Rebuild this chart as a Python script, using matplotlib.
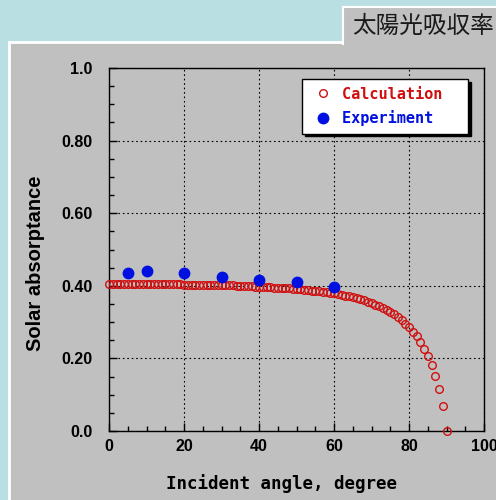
import matplotlib
matplotlib.use("Agg")
import matplotlib.pyplot as plt
from matplotlib.patches import Rectangle
from matplotlib.lines import Line2D

# calculated solar absorptance, one point per degree 0..90
calc_angle = list(range(0, 91))
calc_value = [
    0.405, 0.405, 0.405, 0.405, 0.405, 0.405, 0.405, 0.405, 0.405, 0.405,
    0.405, 0.404, 0.404, 0.404, 0.404, 0.404, 0.404, 0.404, 0.404, 0.404,
    0.403, 0.403, 0.403, 0.403, 0.403, 0.403, 0.402, 0.402, 0.402, 0.402,
    0.402, 0.401, 0.401, 0.401, 0.400, 0.400, 0.400, 0.399, 0.399, 0.398,
    0.398, 0.397, 0.397, 0.396, 0.395, 0.395, 0.394, 0.393, 0.393, 0.392,
    0.391, 0.390, 0.389, 0.388, 0.387, 0.386, 0.385, 0.384, 0.382, 0.381,
    0.379, 0.377, 0.375, 0.373, 0.371, 0.368, 0.366, 0.363, 0.360, 0.356,
    0.352, 0.348, 0.344, 0.339, 0.333, 0.327, 0.321, 0.314, 0.305, 0.296,
    0.287, 0.274, 0.262, 0.245, 0.227, 0.207, 0.181, 0.151, 0.116, 0.068,
    0.0,
]

exp_angle = [5, 10, 20, 30, 40, 50, 60]
exp_value = [0.436, 0.440, 0.436, 0.424, 0.415, 0.410, 0.398]

xticks = [0, 20, 40, 60, 80, 100]
yticks = [0.0, 0.2, 0.4, 0.6, 0.8, 1.0]
ytick_labels = ["0.0", "0.20", "0.40", "0.60", "0.80", "1.0"]

title_text = "太陽光吸収率"

W, H = 496, 500
fig = plt.figure(figsize=(W / 100, H / 100), dpi=100)
fig.patch.set_facecolor("#b9dfe3")

# gray panel with white edge on left/top
panel_top = 1 - 42 / H
fig.patches.append(Rectangle((9 / W, 0), 1, panel_top, transform=fig.transFigure,
                             facecolor="#c0c0c0", edgecolor="none", zorder=-3))
fig.lines.append(Line2D([9 / W, 9 / W], [0, panel_top], transform=fig.transFigure,
                        color="white", lw=2, zorder=-2))
fig.lines.append(Line2D([9 / W, 1], [panel_top, panel_top], transform=fig.transFigure,
                        color="white", lw=2, zorder=-2))

# title box
tb_left, tb_top, tb_bot = 343 / W, 1 - 7 / H, 1 - 44 / H
fig.patches.append(Rectangle((tb_left, tb_bot), 1, tb_top - tb_bot, transform=fig.transFigure,
                             facecolor="#c0c0c0", edgecolor="none", zorder=-1))
fig.lines.append(Line2D([tb_left, tb_left], [tb_bot, tb_top], transform=fig.transFigure,
                        color="white", lw=1.5, zorder=-0.5))
fig.lines.append(Line2D([tb_left, 1], [tb_top, tb_top], transform=fig.transFigure,
                        color="white", lw=1.5, zorder=-0.5))
fig.text(352 / W, (tb_top + tb_bot) / 2 - 0.002, title_text, fontsize=17,
         family=["Noto Sans CJK JP", "DejaVu Sans"], color="#1a1a1a",
         va="center", ha="left")

ax = fig.add_axes([109 / W, 1 - 431 / H, (484 - 109) / W, (431 - 68) / H])
ax.set_facecolor("#c0c0c0")

ax.plot(calc_angle, calc_value, linestyle="none", marker="o", markersize=5.5,
        markerfacecolor="none", markeredgecolor="#d01010", markeredgewidth=1.0,
        label="Calculation  ", zorder=3, clip_on=False)
ax.plot(exp_angle, exp_value, linestyle="none", marker="o", markersize=7.5,
        markerfacecolor="#0010e0", markeredgecolor="#0010e0",
        label="Experiment  ", zorder=4)

ax.set_xlim(0, 100)
ax.set_ylim(0, 1.0)
ax.set_xticks(xticks)
ax.set_yticks(yticks)
ax.set_yticklabels(ytick_labels)
ax.set_xticks(range(0, 101, 5), minor=True)
ax.set_yticks([i * 0.05 for i in range(21)], minor=True)
ax.tick_params(which="both", direction="in", top=False, right=False, width=1)
ax.tick_params(which="major", length=6)
ax.tick_params(which="minor", length=3.5)
ax.tick_params(axis="y", pad=12)
ax.tick_params(axis="x", pad=6)
for lab in ax.get_xticklabels() + ax.get_yticklabels():
    lab.set_fontfamily("Liberation Sans")
    lab.set_fontweight("bold")
    lab.set_fontsize(11.5)
ax.grid(True, which="major", color="black", linestyle=(0, (1.5, 2.5)), linewidth=0.8)
for s in ax.spines.values():
    s.set_color("black")
    s.set_linewidth(1)

ax.set_xlabel("Incident angle, degree", fontsize=12.6, fontweight="bold",
              family="DejaVu Sans Mono", va="top")
ax.xaxis.set_label_coords(0.459, -0.118)
ax.set_ylabel("Solar absorptance", fontsize=14.5, fontweight="bold",
              family="Liberation Sans", va="center")
ax.yaxis.set_label_coords(-0.197, 0.463)

leg = ax.legend(loc="upper right", bbox_to_anchor=(0.957, 0.970), borderaxespad=0,
                frameon=True, fancybox=False, shadow={"color": "black", "alpha": 1},
                numpoints=1, handlelength=1.78, handletextpad=0.3, borderpad=0.5,
                labelspacing=0.55, prop={"family": "DejaVu Sans Mono", "weight": "bold", "size": 11},
                labelcolor=["#d01010", "#0010e0"])
leg.get_frame().set_edgecolor("black")
leg.get_frame().set_linewidth(1)
leg.get_frame().set_facecolor("white")

fig.savefig("out.png", dpi=100, facecolor=fig.get_facecolor())
